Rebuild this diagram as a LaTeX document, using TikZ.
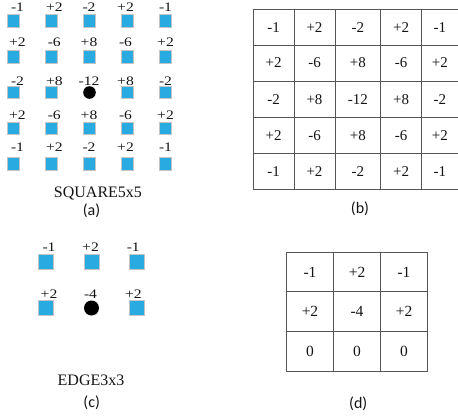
\documentclass[tikz,border=0pt]{standalone}
\usepackage{fontspec}
\setmainfont{Liberation Serif}
\newfontfamily\capfont{Carlito}
\newfontfamily\wtfont[FakeStretch=1.2]{Liberation Serif}
\definecolor{cellblue}{RGB}{41,171,226}
\definecolor{cellrim}{RGB}{196,196,196}
\definecolor{gridgray}{RGB}{85,85,85}
\definecolor{ink}{RGB}{20,20,20}

\begin{document}
\begin{tikzpicture}[x=1pt,y=-1pt,
  pixel/.style={draw=cellrim, line width=0.9pt, fill=cellblue, minimum size=#1, inner sep=0pt},
  centre/.style={circle, fill=black, minimum size=#1, inner sep=0pt},
  weight/.style={anchor=base, inner sep=0pt, text=ink, font=\fontsize{13}{15}\wtfont},
  kernel/.style={line width=1pt, draw=gridgray},
  cellb/.style={inner sep=0pt, text=ink, font=\fontsize{15}{17}\selectfont},
  celld/.style={inner sep=0pt, text=ink, font=\fontsize{15.5}{18}\selectfont},
  title/.style={inner sep=0pt, text=ink, font=\fontsize{16}{19}\selectfont},
  tag/.style={inner sep=0pt, text=ink, font=\fontsize{16}{19}\capfont}]
\useasboundingbox (0,0) rectangle (458,418);

% (a) SQUARE5x5 neighbourhood with its weights
\foreach \row [count=\r] in {{-1,+2,-2,+2,-1},{+2,-6,+8,-6,+2},{-2,+8,-12,+8,-2},{+2,-6,+8,-6,+2},{-1,+2,-2,+2,-1}}{
  \foreach \w [count=\c] in \row {
    \pgfmathsetmacro{\px}{13.5+38*(\c-1)}
    \pgfmathsetmacro{\py}{21+35.75*(\r-1)}
    \pgfmathsetmacro{\lx}{{17.5,54.3,89,125.5,165.5}[\c-1]}
    \pgfmathsetmacro{\ly}{{11.7,46.7,85.5,119.7,151.7}[\r-1]}
    \ifnum\r=3 \ifnum\c=3
      \node[centre=12.6pt] (a-\r-\c) at (\px,\py) {};
    \else
      \node[pixel=12.6pt] (a-\r-\c) at (\px,\py) {};
    \fi\else
      \node[pixel=12.6pt] (a-\r-\c) at (\px,\py) {};
    \fi
    \node[weight] (wa-\r-\c) at (\lx,\ly) {\w};
  }
}
\node[title] (nameA) at (98,193) {SQUARE5x5};
\node[tag] (tagA) at (91.5,211) {(a)};

% (b) the same weights as a 5x5 table, open on its right side
\foreach \y in {9.3,45,81,117.3,153.3,189.3}
  \draw[kernel] (253.3,\y) -- (458,\y);
\foreach \x in {253.3,294,335,380.7,421.7}
  \draw[kernel] (\x,9.3) -- (\x,189.3);
\foreach \row [count=\r] in {{-1,+2,-2,+2,-1},{+2,-6,+8,-6,+2},{-2,+8,-12,+8,-2},{+2,-6,+8,-6,+2},{-1,+2,-2,+2,-1}}{
  \foreach \w [count=\c] in \row {
    \pgfmathsetmacro{\cx}{{273.7,314.5,357.9,401.2,439.9}[\c-1]}
    \pgfmathsetmacro{\cy}{{27.2,63,99.2,135.3,171.3}[\r-1]}
    \node[cellb] (b-\r-\c) at (\cx,\cy) {\w};
  }
}
\node[tag] (tagB) at (360,209) {(b)};

% (c) EDGE3x3 neighbourhood with its weights
\foreach \row [count=\r] in {{-1,+2,-1},{+2,-4,+2}}{
  \foreach \w [count=\c] in \row {
    \pgfmathsetmacro{\px}{46+45.5*(\c-1)}
    \pgfmathsetmacro{\py}{262+46*(\r-1)}
    \pgfmathsetmacro{\lx}{{49,90.5,133.3}[\c-1]}
    \pgfmathsetmacro{\ly}{{251.7,298.3}[\r-1]}
    \ifnum\r=2 \ifnum\c=2
      \node[centre=15pt] (c-\r-\c) at (\px,\py) {};
    \else
      \node[pixel=15pt] (c-\r-\c) at (\px,\py) {};
    \fi\else
      \node[pixel=15pt] (c-\r-\c) at (\px,\py) {};
    \fi
    \node[weight] (wc-\r-\c) at (\lx,\ly) {\w};
  }
}
\node[title] (nameC) at (91,380.7) {EDGE3x3};
\node[tag] (tagC) at (91.7,402.7) {(c)};

% (d) the EDGE3x3 weights as a 3x3 table
\foreach \y in {252.3,291.7,331,371.7}
  \draw[kernel] (286.7,\y) -- (427.3,\y);
\foreach \x in {286.7,333.3,380.7,427.3}
  \draw[kernel] (\x,252.3) -- (\x,371.7);
\foreach \row [count=\r] in {{-1,+2,-1},{+2,-4,+2},{0,0,0}}{
  \foreach \w [count=\c] in \row {
    \pgfmathsetmacro{\cx}{{310,357,404}[\c-1]}
    \pgfmathsetmacro{\cy}{{272,311.4,351.4}[\r-1]}
    \node[celld] (d-\r-\c) at (\cx,\cy) {\w};
  }
}
\node[tag] (tagD) at (358.3,403.3) {(d)};
\end{tikzpicture}
\end{document}
